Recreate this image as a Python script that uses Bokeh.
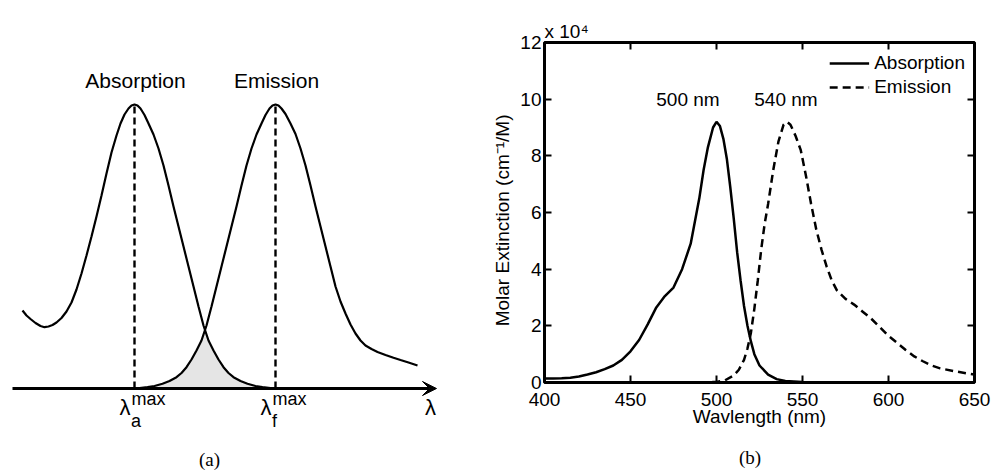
import numpy as np
from bokeh.plotting import figure
from bokeh.layouts import row
from bokeh.models import (Range1d, Label, Arrow, VeeHead, LinearAxis, FixedTicker,
                          Legend, LegendItem, CustomJSTickFormatter)
from bokeh.core.properties import value
from bokeh.embed import file_html
from bokeh.resources import INLINE

# ---------------- data: panel (a) schematic (arbitrary units) ----------------
a_x = [22, 26, 30, 35, 40, 44, 48, 52, 56, 61, 66, 71, 76, 81, 86, 91, 96, 101, 106, 111,
       116, 120, 124, 128, 131, 134, 137, 140, 144, 148, 153, 158, 163, 168, 173, 178, 183,
       188, 193, 198, 203, 208, 213, 218, 223, 228, 233, 240, 247, 255, 262, 270, 278]
a_h = [78, 73, 69.5, 65.5, 62.5, 61.3, 62, 63.5, 66, 70.5, 77, 86, 99, 115, 133, 152, 172,
       193, 215, 236, 253, 265, 274, 280, 283, 284, 283, 280, 273.5, 265, 254, 240, 223, 203,
       182, 162, 142, 122, 102, 82, 63, 48, 38, 29, 21.3, 15.5, 11.3, 7.5, 4.7, 2.5, 1.3, 0.5, 0]
e_x = [131, 139, 147, 154, 162, 169, 176, 181, 186, 191, 196, 201, 206, 211, 216, 221, 226,
       231, 236, 241, 246, 251, 256, 261, 265, 269, 272, 275, 278, 281, 285, 290, 295, 300,
       305, 310, 315, 320, 325, 330, 335, 340, 345, 350, 355, 360, 365, 371, 377, 385, 393,
       400, 408, 417]
e_h = [0, 0.5, 1.3, 2.5, 4.7, 7.5, 11.3, 15.5, 21.3, 29, 38, 48, 63, 82, 102, 122, 142, 162,
       182, 203, 223, 240, 254, 265, 273.5, 280, 283, 284, 283, 280, 274.5, 265, 254.5, 240,
       223, 203, 182, 162, 142, 122, 102, 87, 75, 64, 55, 48, 43, 39.5, 36.5, 33.5, 30.7,
       28.5, 26, 23]
schematic_titles = ["Absorption", "Emission"]

# ---------------- data: panel (b) spectra (units of 10^4 cm^-1/M) ----------------
wl_abs = [400, 405, 410, 415, 420, 425, 430, 435, 440, 445, 450, 455, 460, 465, 470, 475,
          480, 485, 490, 492.5, 495, 498, 500, 502, 504, 506, 508, 510, 512, 514, 516, 518,
          520, 522, 525, 530, 535, 540, 550, 560, 600, 650]
absorption = [0.14, 0.14, 0.15, 0.17, 0.21, 0.28, 0.36, 0.47, 0.6, 0.8, 1.1, 1.5, 2.05, 2.65,
              3.05, 3.35, 4.0, 4.9, 6.5, 7.5, 8.3, 9.0, 9.2, 9.05, 8.6, 7.9, 6.9, 5.8, 4.6,
              3.6, 2.7, 2.0, 1.45, 1.0, 0.6, 0.28, 0.12, 0.05, 0.02, 0, 0, 0]
wl_em = [490, 500, 505, 510, 513, 516, 518, 520, 522, 524, 526, 528, 530, 533, 536, 539, 541,
         543, 546, 549, 552, 555, 558, 561, 564, 567, 570, 575, 580, 585, 590, 595, 600, 605,
         610, 615, 620, 625, 630, 640, 650]
emission = [0, 0.02, 0.08, 0.25, 0.45, 0.8, 1.2, 1.75, 2.6, 3.6, 4.7, 5.6, 6.3, 7.5, 8.5, 9.1,
            9.2, 9.1, 8.7, 8.2, 7.3, 6.3, 5.4, 4.7, 4.1, 3.6, 3.25, 2.95, 2.75, 2.5, 2.25, 1.95,
            1.65, 1.4, 1.15, 0.92, 0.75, 0.6, 0.5, 0.38, 0.28]
series_names = ["Absorption", "Emission"]
peak_wl = [500, 540]
x_ticks = [400, 450, 500, 550, 600, 650]
y_ticks = [0, 2, 4, 6, 8, 10, 12]

FONT = "Liberation Sans"
SERIF = "Liberation Serif"
NBSP = "\u00a0"

# ======================= panel (a) =======================
p1 = figure(width=470, height=470, x_range=Range1d(0, 470), y_range=Range1d(-82, 388),
            output_backend="svg", toolbar_location=None, x_axis_location=None,
            y_axis_location=None, min_border=0, title=None)
p1.frame_align = False
p1.grid.visible = False
p1.outline_line_color = None

xf = np.linspace(min(e_x), max(a_x), 500)
yf = np.minimum(np.interp(xf, a_x, a_h), np.interp(xf, e_x, e_h))
p1.varea(x=xf, y1=0, y2=yf, fill_color="#e5e5e5")

p1.line(a_x, a_h, line_color="black", line_width=2.2)
p1.line(e_x, e_h, line_color="black", line_width=2.2)

ia = int(np.argmax(a_h))
ie = int(np.argmax(e_h))
peaks_x = [a_x[ia], e_x[ie]]
peaks_h = [a_h[ia], e_h[ie]]
p1.segment(x0=peaks_x, y0=[0, 0], x1=peaks_x, y1=peaks_h, line_color="black",
           line_width=2.4, line_dash="7 4")

p1.add_layout(Arrow(end=VeeHead(size=14, fill_color="black", line_color="black"),
                    x_start=12, y_start=0, x_end=436, y_end=0,
                    line_width=3, line_color="black"))

for px, ph, t in zip(peaks_x, peaks_h, schematic_titles):
    p1.add_layout(Label(x=px + 1, y=ph + 24, text=t, text_align="center",
                        text_baseline="alphabetic", text_font=FONT,
                        text_font_size="21px", text_color="black"))

for px, sub in zip(peaks_x, ["a", "f"]):
    p1.add_layout(Label(x=px - 9.5, y=-19, text="λ", text_align="center",
                        text_baseline="alphabetic", text_font=FONT,
                        text_font_size="22px", text_color="black"))
    p1.add_layout(Label(x=px - 3, y=-10, text="max", text_align="left",
                        text_baseline="alphabetic", text_font=FONT,
                        text_font_size="18px", text_color="black"))
    p1.add_layout(Label(x=px - 3.5, y=-32.5, text=sub, text_align="left",
                        text_baseline="alphabetic", text_font=FONT,
                        text_font_size="18px", text_color="black"))

p1.add_layout(Label(x=430, y=-19, text="λ", text_align="center", text_baseline="alphabetic",
                    text_font=FONT, text_font_size="22px", text_color="black"))
p1.add_layout(Label(x=209, y=-71, text="(a)", text_align="center", text_baseline="alphabetic",
                    text_font=SERIF, text_font_size="19px", text_color="black"))

# ======================= panel (b) =======================
p2 = figure(width=521, height=470, x_range=Range1d(400, 650), y_range=Range1d(0, 12),
            output_backend="svg", toolbar_location=None, title="x 10⁴",
            min_border_left=74, min_border_right=17, min_border_top=42, min_border_bottom=88)
p2.frame_align = False
p2.grid.visible = False
p2.outline_line_color = "black"
p2.outline_line_width = 3
p2.outline_line_alpha = 1

p2.title.align = "left"
p2.title.text_font = FONT
p2.title.text_font_size = "19px"
p2.title.text_font_style = "normal"
p2.title.text_color = "black"
p2.title.standoff = 1
p2.title.offset = 0

p2.add_layout(LinearAxis(), "above")
p2.add_layout(LinearAxis(), "right")

for ax in p2.xaxis:
    ax.ticker = FixedTicker(ticks=x_ticks)
for ax in p2.yaxis:
    ax.ticker = FixedTicker(ticks=y_ticks)
for ax in p2.xaxis + p2.yaxis:
    ax.axis_line_color = None
    ax.major_tick_in = 7
    ax.major_tick_out = 0
    ax.major_tick_line_width = 2
    ax.major_tick_line_color = "black"
    ax.minor_tick_line_color = None
    ax.major_label_text_font = FONT
    ax.major_label_text_font_size = "19px"
    ax.major_label_text_color = "black"
    ax.axis_label_text_font = FONT
    ax.axis_label_text_font_size = "19px"
    ax.axis_label_text_font_style = "normal"
    ax.axis_label_text_color = "black"

for ax in [p2.above[0], p2.right[0]]:
    ax.formatter = CustomJSTickFormatter(code="return ''")
    ax.major_label_text_font_size = "0px"
    ax.major_label_standoff = 0

p2.below[0].major_label_standoff = 10
p2.below[0].axis_label = "Wavlength (nm)"
p2.below[0].axis_label_standoff = -3
p2.left[0].major_label_standoff = 3
p2.left[0].axis_label = "Molar Extinction (cm⁻¹/M)" + NBSP * 3
p2.left[0].axis_label_standoff = 4

# panel caption "(b)" carried by a tick-less axis below the x axis
cap_axis = LinearAxis(ticker=FixedTicker(ticks=[]), axis_line_color=None,
                      major_tick_line_color=None, minor_tick_line_color=None,
                      major_tick_out=0, major_tick_in=0, major_label_standoff=0,
                      axis_label="(b)" + NBSP * 4, axis_label_standoff=17,
                      axis_label_text_font=SERIF, axis_label_text_font_size="19px",
                      axis_label_text_font_style="normal", axis_label_text_color="black")
p2.add_layout(cap_axis, "below")

r_abs = p2.line(wl_abs, absorption, line_color="black", line_width=2.5)
r_em = p2.line(wl_em, emission, line_color="black", line_width=2.5, line_dash="8 5")

legend = Legend(items=[LegendItem(label=series_names[0], renderers=[r_abs]),
                       LegendItem(label=series_names[1], renderers=[r_em])],
                location="top_right", margin=0, padding=9, spacing=0,
                glyph_width=40, glyph_height=24, label_height=24, label_standoff=5,
                label_text_font=FONT, label_text_font_size="19px", label_text_color="black",
                background_fill_alpha=0, border_line_alpha=0)
p2.add_layout(legend)

label_x = [483.4, 540.4]
p2.text(x=label_x, y=[10.0, 10.0], text=[f"{w} nm" for w in peak_wl],
        text_align="center", text_baseline="middle", text_font=value(FONT),
        text_font_size="19px", text_color="black")

layout = row(p1, p2, spacing=0)
open("out.html", "w").write(file_html(layout, INLINE))
